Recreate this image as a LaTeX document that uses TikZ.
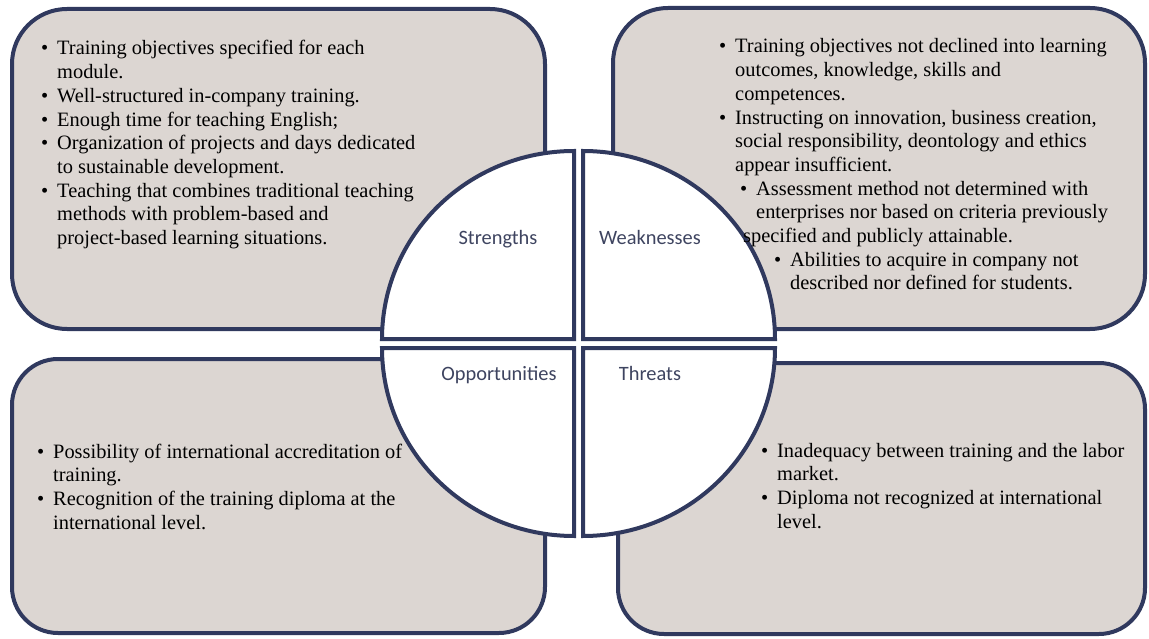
\documentclass[tikz,border=0pt]{standalone}
\usepackage{fontspec}
\setmainfont{Liberation Serif}
\newfontfamily\labelfont{Carlito}
\usepackage{tikz}
\usetikzlibrary{positioning}

\definecolor{boxfill}{RGB}{220,214,210}
\definecolor{boxline}{RGB}{48,57,94}
\definecolor{labelcol}{RGB}{62,68,96}

\newcommand{\bul}{\llap{\textbullet\hspace{9pt}}}

\tikzset{
	swotbox/.style={draw=boxline, fill=boxfill, line width=4pt, rounded corners=#1, inner sep=0pt},
	quadrant/.style={draw=boxline, fill=white, line width=4pt},
	quadlabel/.style={font=\labelfont\fontsize{20.4}{24}\selectfont, text=labelcol, anchor=base, inner sep=0pt},
	itemtext/.style={font=\fontsize{20.4}{23.7}\selectfont, anchor=base west, inner sep=0pt}
}

\begin{document}
\begin{tikzpicture}[x=1pt, y=-1pt]
	\useasboundingbox (0,0) rectangle (1149,639);
	
	\node[swotbox=55pt, minimum width=533pt, minimum height=320pt] (strbox) at (278.5,169) {};
	\node[swotbox=55pt, minimum width=532pt, minimum height=321pt] (weakbox) at (879,168.5) {};
	\node[swotbox=46pt, minimum width=533pt, minimum height=274pt] (oppbox) at (278.5,496) {};
	\node[swotbox=46pt, minimum width=527pt, minimum height=271pt] (thrbox) at (881.5,498.5) {};
	
	\path[quadrant] (574,339) -- (382,339) arc[start angle=180, end angle=90, x radius=192pt, y radius=188pt] -- cycle;
	\path[quadrant] (583,339) -- (583,151) arc[start angle=90, end angle=0, x radius=192pt, y radius=188pt] -- cycle;
	\path[quadrant] (574,348) -- (382,348) arc[start angle=180, end angle=270, x radius=192pt, y radius=188pt] -- cycle;
	\path[quadrant] (583,348) -- (775,348) arc[start angle=0, end angle=-90, x radius=192pt, y radius=188pt] -- cycle;
	
	\node[quadlabel] (strlabel) at (498,245) {Strengths};
	\node[quadlabel] (weaklabel) at (650,245) {Weaknesses};
	\node[quadlabel] (opplabel) at (499,380) {Opportunities};
	\node[quadlabel] (thrlabel) at (650,380) {Threats};
	
	\node[itemtext] (strtext) at (57,55) {\begin{tabular}[t]{@{}l@{}}
		\bul Training objectives specified for each\\
		module.\\
		\bul Well-structured in-company training.\\
		\bul Enough time for teaching English;\\
		\bul Organization of projects and days dedicated\\
		to sustainable development.\\
		\bul Teaching that combines traditional teaching\\
		methods with problem-based and\\
		project-based learning situations.
	\end{tabular}};
	
	\node[itemtext] (weaktext) at (735,53) {\begin{tabular}[t]{@{}l@{}}
		\bul Training objectives not declined into learning\\
		outcomes, knowledge, skills and\\
		competences.\\
		\bul Instructing on innovation, business creation,\\
		social responsibility, deontology and ethics\\
		appear insufficient.\\
		\hspace*{21pt}\bul Assessment method not determined with\\
		\hspace*{21pt}enterprises nor based on criteria previously\\
		\hspace*{8pt}specified and publicly attainable.\\
		\hspace*{55pt}\bul Abilities to acquire in company not\\
		\hspace*{55pt}described nor defined for students.
	\end{tabular}};
	
	\node[itemtext] (opptext) at (53,458) {\begin{tabular}[t]{@{}l@{}}
		\bul Possibility of international accreditation of\\
		training.\\
		\bul Recognition of the training diploma at the\\
		international level.
	\end{tabular}};
	
	\node[itemtext] (thrtext) at (777,457) {\begin{tabular}[t]{@{}l@{}}
		\bul Inadequacy between training and the labor\\
		market.\\
		\bul Diploma not recognized at international\\
		level.
	\end{tabular}};
\end{tikzpicture}
\end{document}
